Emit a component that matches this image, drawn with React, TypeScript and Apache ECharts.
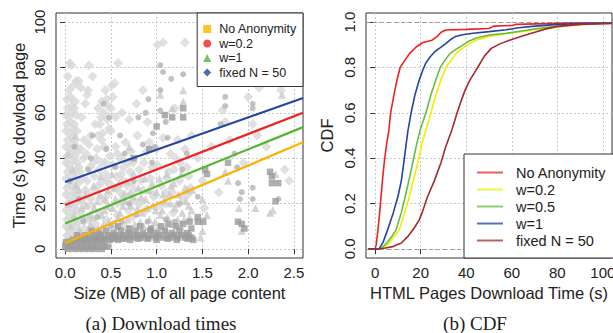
import React, { useEffect, useRef } from "react";
import * as echarts from "echarts";

// ---------- tick values ----------
const sizeTicks = [0, 0.5, 1, 1.5, 2, 2.5];
const timeTicks = [0, 20, 40, 60, 80, 100];
const cdfXTicks = [0, 20, 40, 60, 80, 100];
const cdfYTicks = [0, 0.2, 0.4, 0.6, 0.8, 1];

// ---------- (a) scatter: labels ----------
const scatterLabels = ["No Anonymity", "w=0.2", "w=1", "fixed N = 50"];

// No Anonymity (squares)
const noAnonPoints = [
  [0.00, 1], [0.03, 0], [0.06, 1], [0.09, 0], [0.12, 1], [0.15, 0], [0.18, 1], [0.21, 0], [0.24, 1], [0.27, 0],
  [0.30, 1], [0.33, 0], [0.36, 1], [0.40, 0], [0.43, 1], [0.47, 1],
  [0.01, 3], [0.05, 3], [0.08, 4], [0.11, 3], [0.14, 4], [0.17, 3], [0.20, 4], [0.23, 3], [0.26, 4], [0.29, 3],
  [0.32, 4], [0.35, 3], [0.38, 4], [0.41, 3], [0.44, 4], [0.49, 4], [0.53, 4.5], [0.58, 4], [0.64, 4.5], [0.71, 4], [0.80, 4.5],
  [0.90, 4.5], [1.00, 4], [1.12, 4.5], [1.22, 4], [1.34, 4.5],
  [0.13, 6], [0.18, 5], [0.22, 6], [0.27, 5], [0.31, 6], [0.35, 5], [0.39, 6], [0.43, 5], [0.47, 6], [0.51, 5],
  [0.55, 6], [0.59, 5], [0.63, 6], [0.67, 5], [0.71, 6], [0.75, 5], [0.79, 6], [0.83, 5], [0.87, 6], [0.91, 5],
  [0.95, 6], [0.99, 5], [1.03, 6], [1.07, 5], [1.11, 6], [1.15, 5], [1.19, 6], [1.23, 5], [1.27, 6], [1.31, 5],
  [1.35, 6], [1.38, 5],
  [0.29, 8], [0.37, 7], [0.45, 8], [0.53, 7], [0.61, 8], [0.69, 7], [0.77, 8], [0.85, 7], [0.93, 8], [1.01, 7],
  [1.09, 8], [1.17, 7], [1.25, 8], [1.33, 7], [1.38, 9],
  [0.58, 10], [0.70, 9], [0.82, 10], [0.94, 9], [1.05, 10], [1.13, 11], [1.21, 10], [1.29, 11], [1.36, 12],
  [1.45, 14], [1.45, 12], [1.51, 12], [1.53, 35], [1.55, 33], [1.78, 38], [1.89, 12], [1.93, 11], [2.24, 34],
  [2.26, 32], [2.26, 29], [2.33, 29], [2.30, 21], [1.09, 59], [1.17, 58], [1.29, 62], [1.29, 58], [1.00, 54],
  [0.75, 40], [0.92, 44], [1.96, 9], [1.40, 4],
];

// w=0.2 (circles)
const w02Points = [
  [0.05, 30], [0.10, 45], [0.25, 35], [0.30, 50], [0.45, 44], [0.55, 36], [0.65, 42], [0.75, 30], [0.85, 46],
  [0.95, 38], [0.20, 12], [0.35, 14], [0.50, 10], [0.62, 12], [0.78, 15], [0.90, 12], [1.10, 13], [1.20, 12],
  [1.28, 35], [1.33, 42], [1.04, 81], [1.07, 78], [1.16, 75], [0.91, 66], [1.04, 70], [1.04, 61], [0.96, 51],
  [1.10, 56], [0.98, 45], [1.12, 49], [0.88, 60], [0.80, 58], [0.60, 50], [1.45, 23], [1.89, 29], [1.93, 25],
  [1.91, 22], [2.05, 27], [2.05, 22], [2.33, 22], [1.85, 42], [1.88, 36], [1.70, 55], [2.05, 64], [2.05, 62],
  [1.75, 63], [1.75, 67], [1.29, 77], [0.42, 64], [0.48, 58], [0.28, 40], [0.15, 22], [0.70, 20], [1.25, 20],
];

// w=1 (triangles)
const w1Points = [
  [0.16, 8], [0.20, 14], [0.24, 6], [0.28, 11], [0.32, 18], [0.36, 9], [0.40, 15], [0.44, 22], [0.48, 12],
  [0.52, 18], [0.56, 10], [0.60, 16], [0.64, 24], [0.68, 13], [0.72, 19], [0.76, 11], [0.80, 27], [0.84, 16],
  [0.88, 22], [0.92, 13], [0.96, 19], [1.00, 25], [1.04, 15], [1.08, 21], [1.12, 14], [1.16, 28], [1.20, 18],
  [1.24, 24], [1.28, 16], [1.32, 21], [1.36, 14], [1.39, 26],
  [0.18, 18], [0.22, 24], [0.27, 15], [0.31, 28], [0.35, 21], [0.39, 32], [0.43, 17], [0.47, 26], [0.51, 33],
  [0.55, 22], [0.59, 29], [0.63, 19], [0.67, 30], [0.71, 25], [0.75, 33], [0.79, 18], [0.83, 23], [0.87, 31],
  [0.91, 26], [0.95, 29], [0.99, 17], [1.03, 31], [1.07, 24], [1.11, 33], [1.15, 20], [1.19, 29], [1.23, 13],
  [1.27, 33], [1.31, 27], [1.35, 19],
  [0.15, 26], [0.19, 4], [0.23, 19], [0.26, 9], [0.30, 14], [0.34, 6], [0.38, 24], [0.42, 11], [0.46, 19],
  [0.50, 6], [0.54, 27], [0.58, 14], [0.62, 7], [0.66, 21], [0.70, 9], [0.74, 23], [0.78, 7], [0.82, 12],
  [0.86, 10], [0.90, 18], [0.94, 9], [0.98, 12], [1.02, 10], [1.06, 17], [1.10, 9], [1.14, 24], [1.18, 11],
  [1.22, 20], [1.26, 10], [1.30, 13], [1.34, 26], [1.38, 17],
  [0.02, 4], [0.06, 10], [0.10, 15], [0.04, 20], [0.12, 28], [0.08, 35], [0.03, 42], [0.11, 50],
  [1.50, 8], [1.48, 5], [1.90, 18], [1.93, 8], [2.08, 18], [2.24, 16], [2.27, 17], [1.75, 34], [1.78, 30],
  [1.04, 68], [1.17, 62], [1.29, 70], [1.29, 65], [2.37, 68], [0.70, 45], [1.50, 22], [1.55, 15], [2.30, 33],
];

// fixed N = 50 (diamonds)
const fixedNPoints = [
  [0.01, 3], [0.05, 2], [0.09, 4], [0.13, 3], [0.02, 6], [0.06, 7], [0.10, 6], [0.14, 8],
  [0.01, 10], [0.04, 9], [0.08, 11], [0.12, 10], [0.02, 13], [0.06, 14], [0.11, 13], [0.15, 12],
  [0.01, 17], [0.05, 16], [0.09, 18], [0.13, 17], [0.03, 20], [0.07, 21], [0.11, 20], [0.14, 22],
  [0.01, 24], [0.05, 23], [0.09, 25], [0.12, 24], [0.02, 27], [0.06, 28], [0.10, 27], [0.14, 29],
  [0.01, 31], [0.05, 30], [0.08, 32], [0.12, 31], [0.03, 34], [0.07, 35], [0.11, 34], [0.15, 36],
  [0.01, 38], [0.04, 37], [0.09, 39], [0.13, 38], [0.02, 41], [0.06, 42], [0.10, 41], [0.14, 43],
  [0.01, 45], [0.05, 44], [0.09, 46], [0.12, 45], [0.03, 48], [0.07, 49], [0.11, 48],
  [0.01, 52], [0.05, 51], [0.09, 53], [0.13, 52], [0.02, 55], [0.06, 56], [0.10, 55],
  [0.01, 59], [0.04, 58], [0.08, 60], [0.12, 59], [0.03, 62], [0.07, 63], [0.10, 62],
  [0.02, 66], [0.06, 67], [0.11, 65], [0.04, 70], [0.09, 72], [0.03, 76], [0.15, 74], [0.05, 82],
  [0.22, 64], [0.25, 70],
  [0.18, 22], [0.24, 30], [0.29, 19], [0.33, 26], [0.37, 35], [0.41, 22], [0.45, 30], [0.49, 41], [0.53, 27],
  [0.57, 20], [0.61, 33], [0.65, 24], [0.69, 38], [0.73, 29], [0.77, 21], [0.81, 35], [0.85, 26], [0.89, 43],
  [0.93, 31], [0.97, 23], [1.01, 37], [1.05, 28], [1.09, 20], [1.13, 34], [1.17, 25], [1.21, 40], [1.25, 30],
  [1.29, 22], [1.33, 36], [1.37, 27],
  [0.20, 40], [0.26, 46], [0.31, 38], [0.35, 44], [0.40, 48], [0.44, 38], [0.50, 52], [0.55, 45], [0.60, 40],
  [0.66, 47], [0.72, 43], [0.79, 50], [0.86, 38], [0.92, 47], [1.00, 44], [1.07, 49], [1.15, 42], [1.23, 48],
  [1.31, 44], [1.38, 50],
  [0.16, 34], [0.22, 26], [0.27, 36], [0.39, 29], [0.47, 24], [0.59, 28], [0.71, 34], [0.83, 30], [0.95, 36],
  [1.11, 31], [1.19, 35], [1.35, 32],
  [0.17, 5], [0.21, 9], [0.25, 13], [0.29, 7], [0.33, 11], [0.37, 16], [0.41, 9], [0.45, 13], [0.49, 18],
  [0.53, 11], [0.57, 15], [0.61, 21], [0.65, 10], [0.69, 17], [0.73, 14],
  [0.16, 16], [0.20, 20], [0.24, 25], [0.28, 22], [0.32, 32], [0.36, 28], [0.40, 38], [0.44, 33], [0.48, 29],
  [0.52, 37], [0.56, 32], [0.60, 25], [0.64, 36], [0.68, 28], [0.74, 38],
  [0.19, 31], [0.23, 42], [0.28, 50], [0.34, 40], [0.43, 45], [0.57, 42], [0.63, 30], [0.76, 26], [0.82, 20],
  [0.88, 17], [0.94, 25], [1.02, 19], [1.10, 25], [1.18, 16], [1.26, 38], [1.34, 24],
  [0.18, 58], [0.21, 48], [0.17, 44], [0.33, 55], [0.36, 50], [0.45, 66], [0.51, 72], [0.47, 63], [0.39, 58],
  [0.38, 55], [0.42, 60], [0.46, 57], [0.40, 65], [0.44, 70], [0.50, 62], [0.52, 67], [0.48, 53], [0.55, 58],
  [0.41, 51], [0.54, 73], [0.36, 62],
  [0.07, 81], [0.26, 81], [0.12, 74], [0.30, 76], [0.17, 71], [0.24, 68], [0.62, 60], [0.70, 57], [0.78, 64],
  [0.90, 56], [1.07, 91], [1.01, 90], [1.31, 91], [1.20, 62], [0.58, 82], [0.85, 70],
  [1.45, 40], [1.50, 30], [1.52, 18], [1.60, 45], [1.75, 56], [1.80, 48], [1.95, 38], [2.10, 50], [2.20, 45],
  [2.40, 35], [2.45, 30], [2.00, 67], [2.12, 71], [1.72, 61], [2.36, 70], [1.68, 25], [2.05, 55],
];

// fitted lines (start, end)
const fitNoAnon = [[0, 2.6], [2.6, 47]];
const fitW02 = [[0, 19.4], [2.6, 60]];
const fitW1 = [[0, 11.2], [2.6, 53.7]];
const fitFixedN = [[0, 29.5], [2.6, 66.5]];

// ---------- (b) CDF ----------
const cdfLabels = ["No Anonymity", "w=0.2", "w=0.5", "w=1", "fixed N = 50"];
const cdfNoAnon = [
  [-3, 0], [0, 0], [0.5, 0.02], [1.2, 0.08], [2, 0.16], [2.6, 0.23], [3.3, 0.31], [4, 0.38], [5, 0.46], [6, 0.52],
  [6.8, 0.6], [8.3, 0.68], [9.5, 0.74], [11, 0.8], [12.3, 0.82], [15, 0.86], [18, 0.89], [21, 0.91], [25, 0.92],
  [27, 0.935], [29, 0.955], [31, 0.965], [40, 0.968], [50, 0.972], [52, 0.982], [60, 0.985], [62, 0.99],
  [75, 0.993], [85, 0.996], [104, 0.996],
];
const cdfW02 = [
  [-3, 0], [3.3, 0], [5.5, 0.02], [8, 0.05], [10.6, 0.084], [13, 0.16], [15, 0.23], [17, 0.31], [18.7, 0.38],
  [20.5, 0.46], [22.3, 0.524], [24.5, 0.6], [26.7, 0.68], [28.9, 0.746], [31.4, 0.806], [33.3, 0.83],
  [35.7, 0.863], [38.5, 0.885], [41.6, 0.907], [45, 0.922], [50, 0.937], [57, 0.948], [64.8, 0.959],
  [70, 0.966], [76.6, 0.973], [85, 0.984], [95, 0.992], [104, 0.994],
];
const cdfW05 = [
  [-3, 0], [2.6, 0], [5, 0.025], [7, 0.05], [9.2, 0.084], [11.5, 0.16], [13.2, 0.23], [15, 0.31], [16.5, 0.38],
  [18.2, 0.46], [19.8, 0.524], [22.3, 0.6], [24.5, 0.68], [26.7, 0.746], [28.6, 0.8], [30.5, 0.83],
  [33, 0.863], [35.5, 0.88], [37.8, 0.894], [41, 0.915], [44.5, 0.93], [50, 0.943], [57.6, 0.951],
  [65, 0.962], [72, 0.973], [82, 0.985], [95, 0.993], [104, 0.995],
];
const cdfW1 = [
  [-3, 0], [1.8, 0], [3.5, 0.03], [5.5, 0.084], [8, 0.16], [10, 0.23], [11.5, 0.3], [12.6, 0.38], [13.6, 0.46],
  [14.4, 0.52], [15.8, 0.6], [17.5, 0.68], [19.4, 0.746], [21, 0.79], [22.3, 0.82], [24, 0.845], [25.8, 0.865],
  [27.5, 0.88], [29.6, 0.894], [31, 0.905], [33, 0.922], [35, 0.935], [38.4, 0.944], [43, 0.951], [50, 0.958],
  [57.6, 0.966], [63, 0.975], [69, 0.981], [80, 0.99], [95, 0.995], [104, 0.996],
];
const cdfFixedN = [
  [-3, 0], [1.8, 0], [4.5, 0.004], [7.7, 0.01], [9.5, 0.018], [11.4, 0.025], [14.3, 0.054], [17, 0.09],
  [19.4, 0.128], [21, 0.17], [23, 0.23], [26, 0.3], [28.9, 0.38], [31, 0.45], [33.7, 0.524], [36, 0.6],
  [37.9, 0.656], [39.5, 0.7], [41.6, 0.744], [43.5, 0.775], [45.2, 0.803], [48, 0.85], [51, 0.884], [55, 0.905],
  [59, 0.92], [65, 0.94], [70.8, 0.957], [75, 0.97], [79.5, 0.98], [90, 0.99], [104, 0.994],
];

const captions = ["(a) Download times", "(b) CDF"];

const SANS = '"Liberation Sans", Arial, Helvetica, sans-serif';
const SERIF = '"Liberation Serif", "Times New Roman", serif';
const CW = 640;

function axisCommon(ticks: number[], fmt: (v: number) => string, isY: boolean) {
  return {
    type: "value",
    axisLine: { show: false },
    axisTick: { show: true, customValues: ticks, length: 5, lineStyle: { color: "#333", width: 1 } },
    axisLabel: {
      customValues: ticks,
      formatter: (v: number) => fmt(v),
      color: "#222",
      fontSize: 15,
      fontFamily: SANS,
      margin: isY ? 9 : 7,
      rotate: isY ? 90 : 0,
    },
    splitLine: { show: true, lineStyle: { color: "#c8c8c8", type: [2, 2], width: 1 } },
    nameLocation: "middle",
    nameTextStyle: { fontSize: 16.5, fontFamily: SANS, color: "#222" },
  };
}

export default function App() {
  const ref = useRef<HTMLDivElement>(null);
  useEffect(() => {
    if (!ref.current) return;
    const chart = echarts.init(ref.current, null, { renderer: "svg" });
    const f1 = (v: number) => v.toFixed(1);
    const f0 = (v: number) => String(Math.round(v));
    const scatterColors = ["#9a9a9a", "#b3b3b3", "#c9c9c9", "#d8d8d8"];
    const legendColors = ["#FFB000", "#EE2222", "#55B530", "#2545A0"];
    const cdfColors = ["#EE2222", "#EEEE00", "#66BB44", "#2244AA", "#A52A2A"];
    const cdfData = [cdfNoAnon, cdfW02, cdfW05, cdfW1, cdfFixedN];
    const fits = [fitNoAnon, fitW02, fitW1, fitFixedN];
    const pts = [noAnonPoints, w02Points, w1Points, fixedNPoints];
    const symbols = ["rect", "circle", "triangle", "diamond"];
    const sizes = [6.5, 6, 8, 10];
    const drawOrder = [3, 2, 1, 0];

    const series: any[] = [];
    drawOrder.forEach((i) => {
      series.push({
        name: scatterLabels[i],
        type: "scatter",
        xAxisIndex: 0,
        yAxisIndex: 0,
        data: pts[i],
        symbol: symbols[i],
        symbolSize: sizes[i],
        itemStyle: { color: scatterColors[i] },
        z: 2,
      });
    });
    [3, 1, 2, 0].forEach((i) => {
      series.push({
        name: "fit" + i,
        type: "line",
        xAxisIndex: 0,
        yAxisIndex: 0,
        data: fits[i],
        showSymbol: false,
        symbol: "none",
        lineStyle: { color: legendColors[i], width: 2.2 },
        z: 5,
      });
    });
    cdfData.forEach((d, i) => {
      series.push({
        name: "b:" + cdfLabels[i],
        type: "line",
        xAxisIndex: 1,
        yAxisIndex: 1,
        data: d,
        showSymbol: false,
        symbol: "none",
        lineStyle: { color: cdfColors[i], width: 1.6 },
        itemStyle: { color: cdfColors[i] },
        z: 5,
        markLine:
          i === 0
            ? {
                silent: true,
                symbol: "none",
                label: { show: false },
                lineStyle: { color: "#9a9a9a", type: [4, 3], width: 1 },
                data: [{ yAxis: 0 }, { yAxis: 1 }],
                z: 3,
              }
            : undefined,
      });
    });

    chart.setOption({
      animation: false,
      backgroundColor: "#fff",
      grid: [
        { left: 56, top: 13, width: 247, height: 245, show: true, borderColor: "#333", borderWidth: 1, backgroundColor: "transparent", containLabel: false, outerBoundsMode: "none" },
        { left: 366, top: 13, width: 246, height: 245, show: true, borderColor: "#333", borderWidth: 1, backgroundColor: "transparent", containLabel: false, outerBoundsMode: "none" },
      ],
      xAxis: [
        { ...axisCommon(sizeTicks, f1, false), gridIndex: 0, min: -0.1, max: 2.6, name: "Size (MB) of all page content", nameGap: 26 },
        { ...axisCommon(cdfXTicks, f0, false), gridIndex: 1, min: -4, max: 104, name: "HTML Pages Download Time (s)", nameGap: 26 },
      ],
      yAxis: [
        { ...axisCommon(timeTicks, f0, true), gridIndex: 0, min: -4, max: 104, name: "Time (s) to dowload page", nameGap: 29 },
        { ...axisCommon(cdfYTicks, f1, true), gridIndex: 1, min: -0.04, max: 1.04, name: "CDF", nameGap: 31 },
      ],
      legend: [
        {
          orient: "vertical",
          right: CW - 303,
          top: 13,
          padding: [9, 6, 7, 6],
          itemGap: 0.5,
          itemWidth: 8,
          itemHeight: 8,
          backgroundColor: "#fff",
          borderColor: "#333",
          borderWidth: 1,
          borderRadius: 0,
          selectedMode: false,
          textStyle: { fontSize: 12.5, fontFamily: SANS, color: "#222", lineHeight: 14, padding: [0, 0, 0, 3] },
          data: scatterLabels.map((n, i) => ({
            name: n,
            icon: symbols[i],
            itemStyle: { color: legendColors[i], borderWidth: 0 },
          })),
        },
        {
          orient: "vertical",
          left: 464,
          top: 154,
          padding: [10, 30, 9, 13],
          itemGap: 0,
          itemWidth: 26,
          itemHeight: 2,
          backgroundColor: "#fff",
          borderColor: "#333",
          borderWidth: 1,
          borderRadius: 0,
          selectedMode: false,
          formatter: (n: string) => n.replace(/^b:/, ""),
          textStyle: { fontSize: 14.5, fontFamily: SANS, color: "#222", lineHeight: 17, padding: [0, 0, 0, 8] },
          data: cdfLabels.map((n, i) => ({
            name: "b:" + n,
            icon: "rect",
            itemStyle: { color: cdfColors[i], opacity: 0.75, borderWidth: 0 },
          })),
        },
      ],
      graphic: [
        {
          type: "text",
          x: 161,
          y: 323,
          style: { text: captions[0], font: `19px ${SERIF}`, fill: "#222", align: "center", verticalAlign: "middle" },
        },
        {
          type: "text",
          x: 475,
          y: 323,
          style: { text: captions[1], font: `19px ${SERIF}`, fill: "#222", align: "center", verticalAlign: "middle" },
        },
      ],
      series,
    });
    return () => chart.dispose();
  }, []);
  return (
    <div style={{ position: "fixed", left: 0, top: 0, width: 613, height: 333, overflow: "hidden", background: "#fff" }}>
      <div ref={ref} style={{ width: CW, height: 333 }} />
    </div>
  );
}
